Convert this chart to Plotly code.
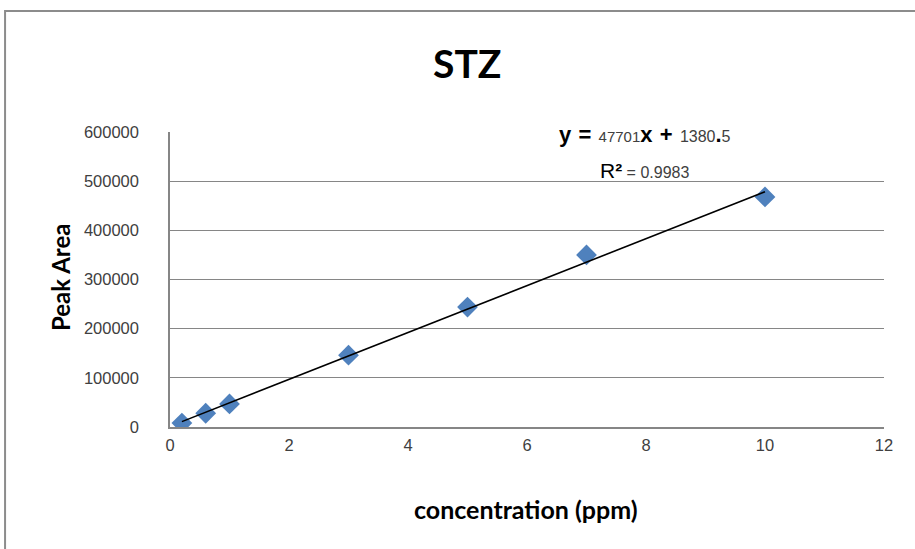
import plotly.graph_objects as go

# Data
concentration = [0.2, 0.6, 1, 3, 5, 7, 10]
peak_area = [8000, 28000, 47000, 146000, 244000, 350000, 468000]
slope = 47701
intercept = 1380.5
r_squared = "0.9983"
x_ticks = [0, 2, 4, 6, 8, 10, 12]
y_ticks = [0, 100000, 200000, 300000, 400000, 500000, 600000]

trend_x = [min(concentration), max(concentration)]
trend_y = [slope * x + intercept for x in trend_x]

fig = go.Figure()
fig.add_trace(go.Scatter(
    x=concentration, y=peak_area, mode="markers",
    marker=dict(symbol="diamond", size=16, color="#4f81bd",
                line=dict(width=0)),
    showlegend=False))
fig.add_trace(go.Scatter(
    x=trend_x, y=trend_y, mode="lines",
    line=dict(color="black", width=1.6), showlegend=False))

tick_font = dict(family="Liberation Sans, Arial", size=16.5, color="#404040")

fig.update_layout(
    width=915, height=549,
    margin=dict(l=170, r=31, t=132, b=122),
    paper_bgcolor="white", plot_bgcolor="white",
    xaxis=dict(range=[0, 12], tickvals=x_ticks,
               ticktext=[str(v) for v in x_ticks],
               showgrid=False, zeroline=False,
               showline=True, linecolor="#868686", linewidth=1.5,
               ticks="", tickfont=tick_font, ticklabelstandoff=2),
    yaxis=dict(range=[0, 600000], tickvals=y_ticks,
               ticktext=[str(v) for v in y_ticks],
               showgrid=True, gridcolor="#868686", gridwidth=1.2,
               zeroline=False, showline=True, linecolor="#868686",
               linewidth=1.5, ticks="", tickfont=tick_font,
               ticklabelstandoff=26),
    shapes=[dict(type="rect", xref="paper", yref="paper",
                 x0=-0.231, x1=1.06, y0=-0.46, y1=1.41,
                 line=dict(color="#8c8c8c", width=2), layer="below")],
)


def big(t):
    return f"<span style='font-size:22px'><b>{t}</b></span>"


def gap():
    return "<span style='font-size:26px'> </span>"


def small(t, size=15):
    return f"<span style='font-size:{size}px;color:#404040'>{t}</span>"


int_str = f"{intercept}"
int_a, int_b = int_str.split(".")
eq_text = (big("y") + gap() + big("=") + gap() + small(str(slope))
           + big("x") + gap() + big("+") + gap()
           + small(int_a, 16) + big(".") + small(int_b, 16))
r2_text = ("<span style='font-size:21px'>R</span>"
           + "<span style='font-size:21px'><b>²</b></span>"
           + small(" = " + r_squared, 16))

annotations = [
    dict(text="<b>STZ</b>", xref="paper", yref="paper", x=(467 - 170) / 714,
         y=(427 - 63) / 295,
         showarrow=False, font=dict(family="Lato", size=39, color="black"),
         xanchor="center", yanchor="middle"),
    dict(text="<b>concentration (ppm)</b>", xref="paper", yref="paper",
         x=(526 - 170) / 714, y=(427 - 509) / 295, showarrow=False,
         font=dict(family="Lato", size=25, color="black"),
         xanchor="center", yanchor="middle"),
    dict(text="<b>Peak Area</b>", xref="paper", yref="paper",
         x=(60 - 170) / 714, y=(427 - 278) / 295, showarrow=False,
         textangle=-90,
         font=dict(family="Lato", size=24, color="black"),
         xanchor="center", yanchor="middle"),
    dict(text=eq_text, xref="paper", yref="paper",
         x=(557 - 170) / 714, y=(427 - 133) / 295, showarrow=False,
         font=dict(family="Liberation Sans, Arial", color="black"),
         xanchor="left", yanchor="middle"),
    dict(text=r2_text, xref="paper", yref="paper",
         x=(598 - 170) / 714, y=(427 - 170) / 295, showarrow=False,
         font=dict(family="Liberation Sans, Arial", color="black"),
         xanchor="left", yanchor="middle"),
]
fig.update_layout(annotations=annotations)

fig.write_html("out.html")
